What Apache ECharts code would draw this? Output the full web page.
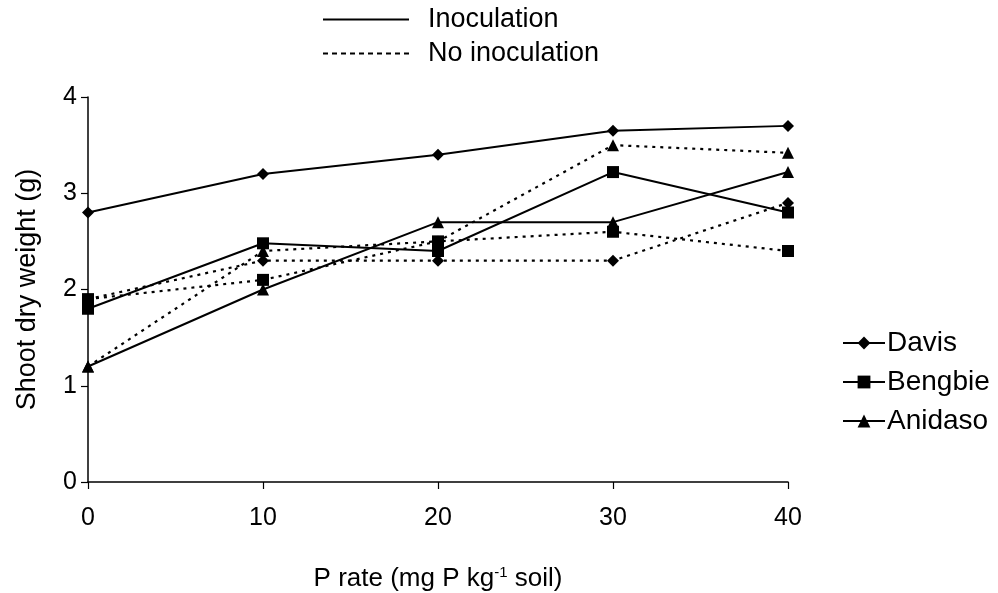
<!DOCTYPE html>
<html>
<head>
<meta charset="utf-8">
<script src="https://cdn.jsdelivr.net/npm/echarts@6/dist/echarts.min.js"></script>
<style>
html,body{margin:0;padding:0;background:#fff;overflow:hidden;}
#c{width:998px;height:593px;}
</style>
</head>
<body>
<div id="c"></div>
<script>
var pRates = [0, 10, 20, 30, 40];
var yTicks = [0, 1, 2, 3, 4];
var cultivars = ['Davis', 'Bengbie', 'Anidaso'];
var treatments = ['Inoculation', 'No inoculation'];

var davisInoc     = [2.8, 3.2, 3.4, 3.65, 3.7];
var bengbieInoc   = [1.8, 2.48, 2.4, 3.22, 2.8];
var anidasoInoc   = [1.2, 2.0, 2.7, 2.7, 3.22];
var davisNoInoc   = [1.9, 2.3, 2.3, 2.3, 2.9];
var bengbieNoInoc = [1.9, 2.1, 2.5, 2.6, 2.4];
var anidasoNoInoc = [1.2, 2.4, 2.5, 3.5, 3.42];

var symbols = {Davis: 'diamond', Bengbie: 'rect', Anidaso: 'triangle'};
var sizes = {Davis: 12, Bengbie: 12, Anidaso: 12};

function pairs(vals){ return pRates.map(function(p,i){ return [p, vals[i]]; }); }

function mk(name, vals, dashed){
  return {
    name: name, type: 'line', data: pairs(vals),
    symbol: symbols[name], symbolSize: sizes[name],
    itemStyle: {color: '#000'},
    lineStyle: {color: '#000', width: dashed ? 2.2 : 2, type: dashed ? [3, 5] : 'solid'},
    z: dashed ? 2 : 3
  };
}

var series = [
  mk('Davis', davisInoc, false),
  mk('Bengbie', bengbieInoc, false),
  mk('Anidaso', anidasoInoc, false),
  mk('Davis', davisNoInoc, true),
  mk('Bengbie', bengbieNoInoc, true),
  mk('Anidaso', anidasoNoInoc, true),
  {name: treatments[0], type: 'line', data: [], symbol: 'none', lineStyle: {color: '#000', width: 1.5, type: 'solid'}, itemStyle: {color: '#000'}},
  {name: treatments[1], type: 'line', data: [], symbol: 'none', lineStyle: {color: '#000', width: 1.5, type: [5, 4]}, itemStyle: {color: '#000'}}
];

var font = 'Liberation Sans, Arial, sans-serif';
var el = document.getElementById('c');
var chart = echarts.init(el, null, {renderer: 'canvas'});
chart.setOption({
  backgroundColor: '#fff',
  animation: false,
  grid: {left: 88, right: 210, top: 97, bottom: 111, containLabel: false, outerBoundsMode: 'none'},
  legend: [
    {
      data: treatments.map(function(t){ return {name: t, itemStyle: {opacity: 0}}; }),
      orient: 'vertical', left: 317, top: 1,
      itemWidth: 86, itemHeight: 14, itemGap: 7,
      textStyle: {fontFamily: font, fontSize: 27, color: '#000', padding: [0, 0, 0, 14]},
      selectedMode: false
    },
    {
      data: cultivars, orient: 'vertical', left: 837, top: 324,
      itemWidth: 42, itemHeight: 16, itemGap: 11,
      textStyle: {fontFamily: font, fontSize: 28, color: '#000', padding: [0, 0, 0, -3]},
      selectedMode: false
    }
  ],
  xAxis: {
    type: 'value', min: 0, max: 40, interval: 10,
    axisLine: {lineStyle: {color: '#000', width: 1.5}},
    axisTick: {show: true, length: 7, lineStyle: {color: '#000', width: 1.2}},
    splitLine: {show: false},
    axisLabel: {margin: 24, fontFamily: font, fontSize: 25, color: '#000',
      formatter: function(v){ return pRates.indexOf(v) >= 0 ? String(v) : ''; }},
    name: '{n|P rate (mg P kg}{s|-1}{n| soil)}',
    nameLocation: 'middle', nameGap: 83,
    nameTextStyle: {rich: {
      n: {fontFamily: font, fontSize: 26, color: '#000'},
      s: {fontFamily: font, fontSize: 15, color: '#000', verticalAlign: 'top', padding: [0, 0, 12, 0]}
    }}
  },
  yAxis: {
    type: 'value', min: 0, max: 4, interval: 1,
    axisLine: {show: true, lineStyle: {color: '#000', width: 1.5}},
    axisTick: {show: true, length: 7, lineStyle: {color: '#000', width: 1.2}},
    splitLine: {show: false},
    axisLabel: {margin: 11, fontFamily: font, fontSize: 25, color: '#000',
      formatter: function(v){ return yTicks.indexOf(v) >= 0 ? String(v) : ''; }},
    name: 'Shoot dry weight (g)', nameLocation: 'middle', nameGap: 47,
    nameTextStyle: {fontFamily: font, fontSize: 27, color: '#000'}
  },
  series: series
});
</script>
</body>
</html>
